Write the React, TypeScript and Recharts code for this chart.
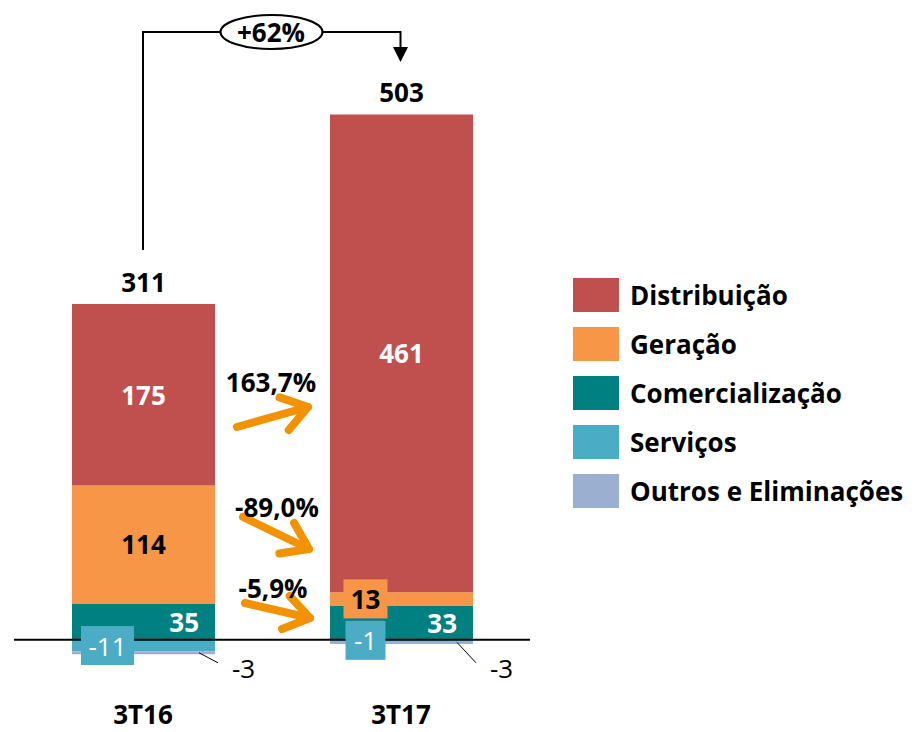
import { BarChart, Bar, XAxis, YAxis, ReferenceLine, LabelList, Legend } from 'recharts';

const CATEGORIES = ['3T16', '3T17'];
const DISTRIBUICAO = [175, 461];
const GERACAO = [114, 13];
const COMERCIALIZACAO = [35, 33];
const SERVICOS = [-11, -1];
const OUTROS = [-3, -3];
const TOTAIS = [311, 503];
const VARIACOES = ['163,7%', '-89,0%', '-5,9%'];
const VARIACAO_TOTAL = '+62%';

const SERIES = [
  { key: 'distribuicao', name: 'Distribuição', color: '#C0504D' },
  { key: 'geracao', name: 'Geração', color: '#F79646' },
  { key: 'comercializacao', name: 'Comercialização', color: '#008080' },
  { key: 'servicos', name: 'Serviços', color: '#4BACC6' },
  { key: 'outros', name: 'Outros e Eliminações', color: '#9BB0D0' },
];
const COLOR: Record<string, string> = Object.fromEntries(SERIES.map((s) => [s.key, s.color]));

const W = 915;
const H = 732;
const MARGIN = { top: 18, right: 385, bottom: 0, left: 14 };
const X_AXIS_H = 30;
const Y_MIN = -60;
const Y_MAX = 600;
const FONT = '"Open Sans", sans-serif';
const FS = 26;
const ORANGE = '#F39200';

// mesma escala usada pelo YAxis, só para anotações
const plotTop = MARGIN.top;
const plotBottom = H - MARGIN.bottom - X_AXIS_H;
const yPx = (v: number) => plotTop + ((Y_MAX - v) / (Y_MAX - Y_MIN)) * (plotBottom - plotTop);

const data = CATEGORIES.map((name, i) => ({
  name,
  distribuicao: DISTRIBUICAO[i],
  geracao: GERACAO[i],
  comercializacao: COMERCIALIZACAO[i],
  servicos: SERVICOS[i],
  outros: OUTROS[i],
  total: TOTAIS[i],
}));

const vb = (p: any) => {
  const b = p.viewBox ?? p;
  return { x: Number(b.x), y: Number(b.y), w: Number(b.width), h: Number(b.height) };
};

const centerLabel = (fill: string) => (p: any) => {
  const { x, y, w, h } = vb(p);
  return (
    <text x={x + w / 2} y={y + h / 2} textAnchor="middle" dominantBaseline="central"
      fill={fill} fontSize={FS} fontWeight={700} fontFamily={FONT}>
      {p.value}
    </text>
  );
};

const geracaoLabel = (p: any) => {
  const { x, y, w, h } = vb(p);
  if (Math.abs(h) >= 30) return centerLabel('#000')(p);
  const cx = x + w / 2 - 36;
  const cy = y + h / 2;
  return (
    <g>
      <rect x={cx - 22} y={cy - 19.5} width={44} height={39} fill={COLOR.geracao} />
      <text x={cx} y={cy} textAnchor="middle" dominantBaseline="central"
        fill="#000" fontSize={FS} fontWeight={700} fontFamily={FONT}>
        {p.value}
      </text>
    </g>
  );
};

const comercLabel = (p: any) => {
  const { x, y, w, h } = vb(p);
  return (
    <text x={x + w - 16} y={y + h / 2} textAnchor="end" dominantBaseline="central"
      fill="#fff" fontSize={FS} fontWeight={700} fontFamily={FONT}>
      {p.value}
    </text>
  );
};

const servicosLabel = (p: any) => {
  const { x, y, w, h } = vb(p);
  const txt = String(p.value);
  const bw = 14 + txt.length * 13;
  const cx = x + w / 2 - 36;
  const cy = y + h / 2;
  return (
    <g>
      <rect x={cx - bw / 2} y={cy - 19.5} width={bw} height={39} fill={COLOR.servicos} />
      <text x={cx} y={cy} textAnchor="middle" dominantBaseline="central"
        fill="#fff" fontSize={FS} fontFamily={FONT}>
        {txt}
      </text>
    </g>
  );
};

const outrosLabel = (p: any) => {
  const { x, y, w, h } = vb(p);
  const sx = x + w - 16;
  const sy = y + h / 2;
  const base = yPx(0);
  return (
    <g>
      <line x1={sx} y1={sy} x2={sx + 19} y2={base + 23} stroke="#000" strokeWidth={1} />
      <text x={sx + 33} y={base + 28} dominantBaseline="central"
        fill="#000" fontSize={FS} fontFamily={FONT}>
        {p.value}
      </text>
    </g>
  );
};

const totalLabel = (p: any) => {
  const { x, y, w } = vb(p);
  return (
    <text x={x + w / 2} y={y - 22} textAnchor="middle" dominantBaseline="central"
      fill="#000" fontSize={FS} fontWeight={700} fontFamily={FONT}>
      {p.value}
    </text>
  );
};

const CategoryTick = (p: any) => (
  <text x={p.x} y={p.y + 4} textAnchor="middle" dominantBaseline="central"
    fill="#000" fontSize={FS} fontWeight={700} fontFamily={FONT}>
    {p.payload.value}
  </text>
);

const LegendBox = () => (
  <div style={{ fontFamily: FONT }}>
    {SERIES.map((s) => (
      <div key={s.key} style={{ display: 'flex', alignItems: 'center', height: 49 }}>
        <div style={{ width: 46, height: 34, background: s.color, marginRight: 11 }} />
        <span style={{ fontSize: FS, fontWeight: 700, color: '#000', whiteSpace: 'nowrap' }}>{s.name}</span>
      </div>
    ))}
  </div>
);

function arrowPts(x1: number, y1: number, x2: number, y2: number, len = 30, ang = 0.6) {
  const a = Math.atan2(y2 - y1, x2 - x1);
  const l = [x2 - len * Math.cos(a - ang), y2 - len * Math.sin(a - ang)];
  const r = [x2 - len * Math.cos(a + ang), y2 - len * Math.sin(a + ang)];
  return { shaft: `${x1},${y1} ${x2},${y2}`, head: `${l[0]},${l[1]} ${x2},${y2} ${r[0]},${r[1]}` };
}

const ARROWS = [
  { from: [237, 427], to: [308, 407], label: [271, 382] },
  { from: [243, 517], to: [309, 549], label: [277, 507] },
  { from: [245, 603], to: [310, 618], label: [273, 588] },
];

const Annotations = () => (
  <svg width={W} height={H} style={{ position: 'absolute', left: 0, top: 0, pointerEvents: 'none' }}>
    {ARROWS.map((a, i) => {
      const p = arrowPts(a.from[0], a.from[1], a.to[0], a.to[1]);
      return (
        <g key={i}>
          <polyline points={p.shaft} stroke={ORANGE} strokeWidth={8} strokeLinecap="round" fill="none" />
          <polyline points={p.head} stroke={ORANGE} strokeWidth={8} strokeLinecap="round" strokeLinejoin="round" fill="none" />
          <text x={a.label[0]} y={a.label[1]} textAnchor="middle" dominantBaseline="central"
            fill="#000" fontSize={FS} fontWeight={700} fontFamily={FONT}>
            {VARIACOES[i]}
          </text>
        </g>
      );
    })}
    <path d="M143,250 V32 H400.5 V48" stroke="#000" strokeWidth={2} fill="none" />
    <polygon points="393,47 408,47 400.5,62" fill="#000" />
    <ellipse cx={271.5} cy={32} rx={51} ry={17} fill="#fff" stroke="#000" strokeWidth={2} />
    <text x={271} y={32} textAnchor="middle" dominantBaseline="central"
      fill="#000" fontSize={FS} fontWeight={700} fontFamily={FONT}>
      {VARIACAO_TOTAL}
    </text>
  </svg>
);

export default function App() {
  return (
    <div style={{ position: 'absolute', left: 0, top: 0, width: W, height: H, background: '#fff' }}>
      <BarChart width={W} height={H} data={data} margin={MARGIN} stackOffset="sign" barSize={143}>
        <XAxis dataKey="name" axisLine={false} tickLine={false} height={X_AXIS_H} tick={CategoryTick} interval={0} />
        <YAxis hide type="number" domain={[Y_MIN, Y_MAX]} />
        <Legend
          layout="vertical"
          align="center"
          verticalAlign="middle"
          content={LegendBox}
          wrapperStyle={{ left: 573, top: 270, width: 340, height: 250 }}
        />
        <Bar dataKey="comercializacao" name="Comercialização" stackId="a" fill={COLOR.comercializacao} isAnimationActive={false}>
          <LabelList dataKey="comercializacao" content={comercLabel} />
        </Bar>
        <Bar dataKey="geracao" name="Geração" stackId="a" fill={COLOR.geracao} isAnimationActive={false}>
          <LabelList dataKey="geracao" content={geracaoLabel} />
        </Bar>
        <Bar dataKey="distribuicao" name="Distribuição" stackId="a" fill={COLOR.distribuicao} isAnimationActive={false}>
          <LabelList dataKey="distribuicao" content={centerLabel('#fff')} />
          <LabelList dataKey="total" content={totalLabel} />
        </Bar>
        <Bar dataKey="servicos" name="Serviços" stackId="a" fill={COLOR.servicos} isAnimationActive={false}>
          <LabelList dataKey="servicos" content={servicosLabel} />
        </Bar>
        <Bar dataKey="outros" name="Outros e Eliminações" stackId="a" fill={COLOR.outros} isAnimationActive={false}>
          <LabelList dataKey="outros" content={outrosLabel} />
        </Bar>
        <ReferenceLine y={0} stroke="#000" strokeWidth={2} />
      </BarChart>
      <Annotations />
    </div>
  );
}
